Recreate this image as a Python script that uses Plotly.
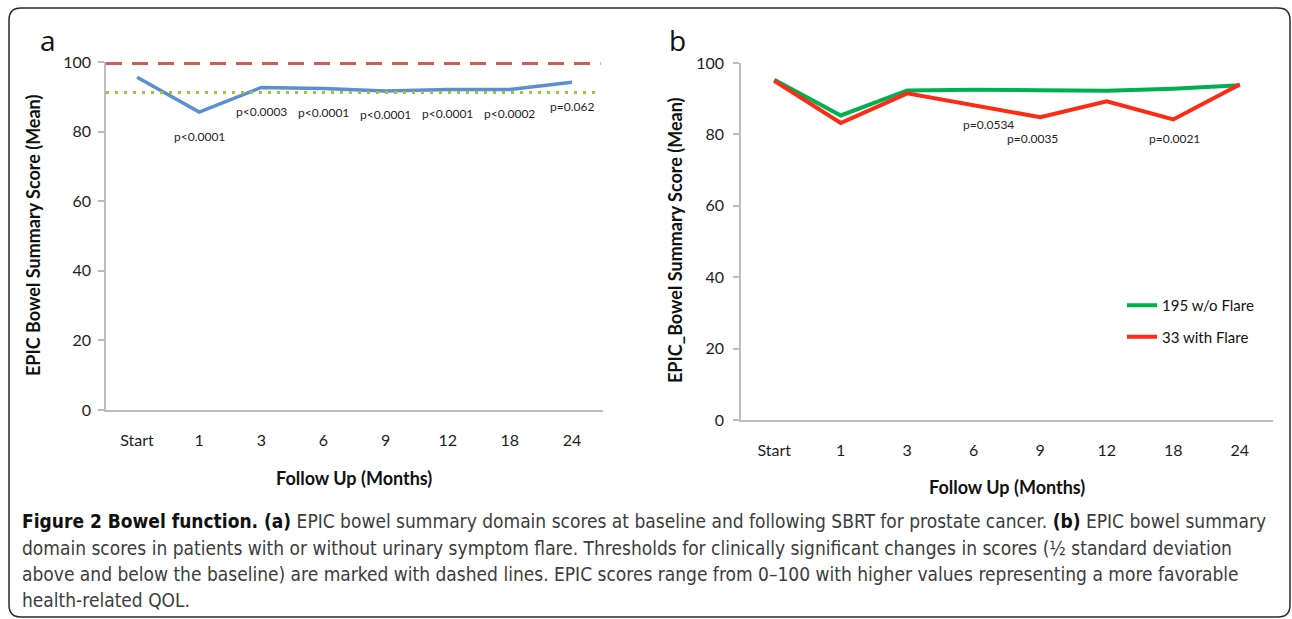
import plotly.graph_objects as go

# ---------------- data ----------------
categories = ["Start", "1", "3", "6", "9", "12", "18", "24"]

# panel a: mean EPIC bowel summary score
bowel_all = [95.6, 85.6, 92.7, 92.4, 91.7, 92.1, 92.1, 94.2]
p_values_a = ["", "p<0.0001", "p<0.0003", "p<0.0001", "p<0.0001", "p<0.0001", "p<0.0002", "p=0.062"]
upper_threshold = 99.7
lower_threshold = 91.2

# panel b
no_flare = [95.3, 85.3, 92.3, 92.5, 92.4, 92.2, 92.8, 93.8]
with_flare = [95.0, 83.2, 91.5, 88.2, 84.8, 89.3, 84.2, 94.0]
p_values_b = {"6": "p=0.0534", "9": "p=0.0035", "18": "p=0.0021"}
series_b_names = ["195 w/o Flare", "33 with Flare"]

y_ticks = [0, 20, 40, 60, 80, 100]

# ---------------- styling ----------------
W, H = 1292, 619
def px_x(v):
    return v / W
def px_y(v):
    return 1 - v / H

TICK_FONT = dict(family="Lato, Open Sans, sans-serif", size=16, color="#1e1e1e")
AXIS_COL = "#bdbdbd"
P_FONT = dict(family="Lato, Open Sans, sans-serif", size=12, color="#1e1e1e")
TITLE_FONT = dict(family="Lato, Open Sans, sans-serif", size=18, color="#111111")

fig = go.Figure()

fig.add_trace(go.Scatter(x=categories, y=bowel_all, mode="lines",
                         line=dict(color="#5b8fd1", width=3.5),
                         xaxis="x", yaxis="y", showlegend=False))
fig.add_trace(go.Scatter(x=categories, y=no_flare, mode="lines", name=series_b_names[0],
                         line=dict(color="#00b050", width=4), legendgroup="g1",
                         xaxis="x2", yaxis="y2"))
fig.add_trace(go.Scatter(x=categories, y=with_flare, mode="lines", name=series_b_names[1],
                         line=dict(color="#ff2a14", width=4), legendgroup="g2",
                         xaxis="x2", yaxis="y2"))

fig.add_shape(type="line", xref="x domain", yref="y", x0=0, x1=0.995,
              y0=upper_threshold, y1=upper_threshold,
              line=dict(color="#d65a50", width=4, dash="16px,10px"))
fig.add_shape(type="line", xref="x domain", yref="y", x0=0, x1=0.995,
              y0=lower_threshold, y1=lower_threshold,
              line=dict(color="#9cc53f", width=3, dash="3px,6px"))

axis_common = dict(showgrid=False, zeroline=False, showline=True, linecolor=AXIS_COL,
                   linewidth=1.5, tickfont=TICK_FONT, fixedrange=True, automargin=False,
                   type="category", categoryorder="array", categoryarray=categories)
yaxis_common = dict(showgrid=False, zeroline=False, showline=True, linecolor=AXIS_COL,
                    linewidth=1.5, tickfont=TICK_FONT, fixedrange=True, automargin=False,
                    range=[0, 100], tickvals=y_ticks, ticks="outside", ticklen=6,
                    tickcolor=AXIS_COL, tickwidth=1.5)

fig.update_layout(
    width=W, height=H, autosize=False,
    margin=dict(l=0, r=0, t=0, b=0, pad=0),
    paper_bgcolor="white", plot_bgcolor="white",
    xaxis=dict(domain=[px_x(106), px_x(603)], anchor="y",
               range=[-0.5, 7.5], ticks="", ticklabelstandoff=15, **axis_common),
    yaxis=dict(domain=[px_y(410), px_y(62)], anchor="x", ticklabelstandoff=4, **yaxis_common),
    xaxis2=dict(domain=[px_x(741), px_x(1273)], anchor="y2",
                range=[-0.5, 7.5], ticks="", ticklabelstandoff=15, **axis_common),
    yaxis2=dict(domain=[px_y(420), px_y(63)], anchor="x2", ticklabelstandoff=6, **yaxis_common),
    legend=dict(x=px_x(1122), y=px_y(289), xanchor="left", yanchor="top",
                font=dict(family="Lato, Open Sans, sans-serif", size=15, color="#111111"),
                tracegroupgap=9, bgcolor="rgba(0,0,0,0)"),
    showlegend=True,
)

ann = []
for i, (val, txt) in enumerate(zip(bowel_all, p_values_a)):
    if txt:
        ann.append(dict(x=i, y=val, xref="x", yref="y", text=txt, showarrow=False,
                        yshift=-24, font=P_FONT))
b_shifts = {"6": (15, -19), "9": (-8, -21), "18": (1, -19)}
for cat, txt in p_values_b.items():
    i = categories.index(cat)
    dx, dy = b_shifts[cat]
    ann.append(dict(x=i, y=with_flare[i], xref="x2", yref="y2", text=txt, showarrow=False,
                    xshift=dx, yshift=dy, font=P_FONT))

def paper_text(x, y, text, font, **kw):
    return dict(x=px_x(x), y=px_y(y), xref="paper", yref="paper", text=text,
                xanchor="center", yanchor="middle", showarrow=False, font=font, **kw)

LETTER_FONT = dict(family="Open Sans, sans-serif", size=28, color="#111111")
ann.append(paper_text(48, 40, "a", LETTER_FONT))
ann.append(paper_text(678, 40, "b", LETTER_FONT))
ann.append(paper_text(33, 236, "<b>EPIC Bowel Summary Score (Mean)</b>", TITLE_FONT, textangle=-90))
ann.append(paper_text(675, 241, "<b>EPIC_Bowel Summary Score (Mean)</b>", TITLE_FONT, textangle=-90))
ann.append(paper_text(354, 478, "<b>Follow Up (Months)</b>", TITLE_FONT))
ann.append(paper_text(1007, 487, "<b>Follow Up (Months)</b>", TITLE_FONT))

CAP_FONT = dict(family="Liberation Sans Narrow, Arial Narrow, DejaVu Sans Condensed, sans-serif",
                size=19, color="#3c3c3c")
caption_lines = [
    "<b><span style='color:#111'>Figure 2 Bowel function. (a)</span></b> EPIC bowel summary domain scores at baseline and following SBRT for prostate cancer. <b><span style='color:#111'>(b)</span></b> EPIC bowel summary",
    "domain scores in patients with or without urinary symptom flare. Thresholds for clinically significant changes in scores (½ standard deviation",
    "above and below the baseline) are marked with dashed lines. EPIC scores range from 0–100 with higher values representing a more favorable",
    "health-related QOL.",
]
cap_y = [521, 548, 574, 600]
for line, yy in zip(caption_lines, cap_y):
    ann.append(dict(x=px_x(20), y=px_y(yy), xref="paper", yref="paper", text=line,
                    xanchor="left", yanchor="middle", showarrow=False, font=CAP_FONT))

fig.update_layout(annotations=ann)

L, T, R, B, r = 9, 8, 1290, 617, 12
path = (f"M {px_x(L)},{px_y(B - r)} L {px_x(L)},{px_y(T + r)} "
        f"Q {px_x(L)},{px_y(T)} {px_x(L + r)},{px_y(T)} "
        f"L {px_x(R - r)},{px_y(T)} Q {px_x(R)},{px_y(T)} {px_x(R)},{px_y(T + r)} "
        f"L {px_x(R)},{px_y(B - r)} Q {px_x(R)},{px_y(B)} {px_x(R - r)},{px_y(B)} "
        f"L {px_x(L + r)},{px_y(B)} Q {px_x(L)},{px_y(B)} {px_x(L)},{px_y(B - r)} Z")
fig.add_shape(type="path", xref="paper", yref="paper", path=path,
              line=dict(color="#2a2a2a", width=1.5), layer="below")

# pin the fixed-size figure to the top-left corner of the page
pin_js = ("document.documentElement.style.overflow='hidden';"
          "document.body.style.margin='0';"
          "var gd=document.getElementById('{plot_id}');"
          "gd.style.position='absolute';gd.style.left='0px';gd.style.top='0px';")

fig.write_html("out.html", post_script=pin_js, config={"displayModeBar": False})
